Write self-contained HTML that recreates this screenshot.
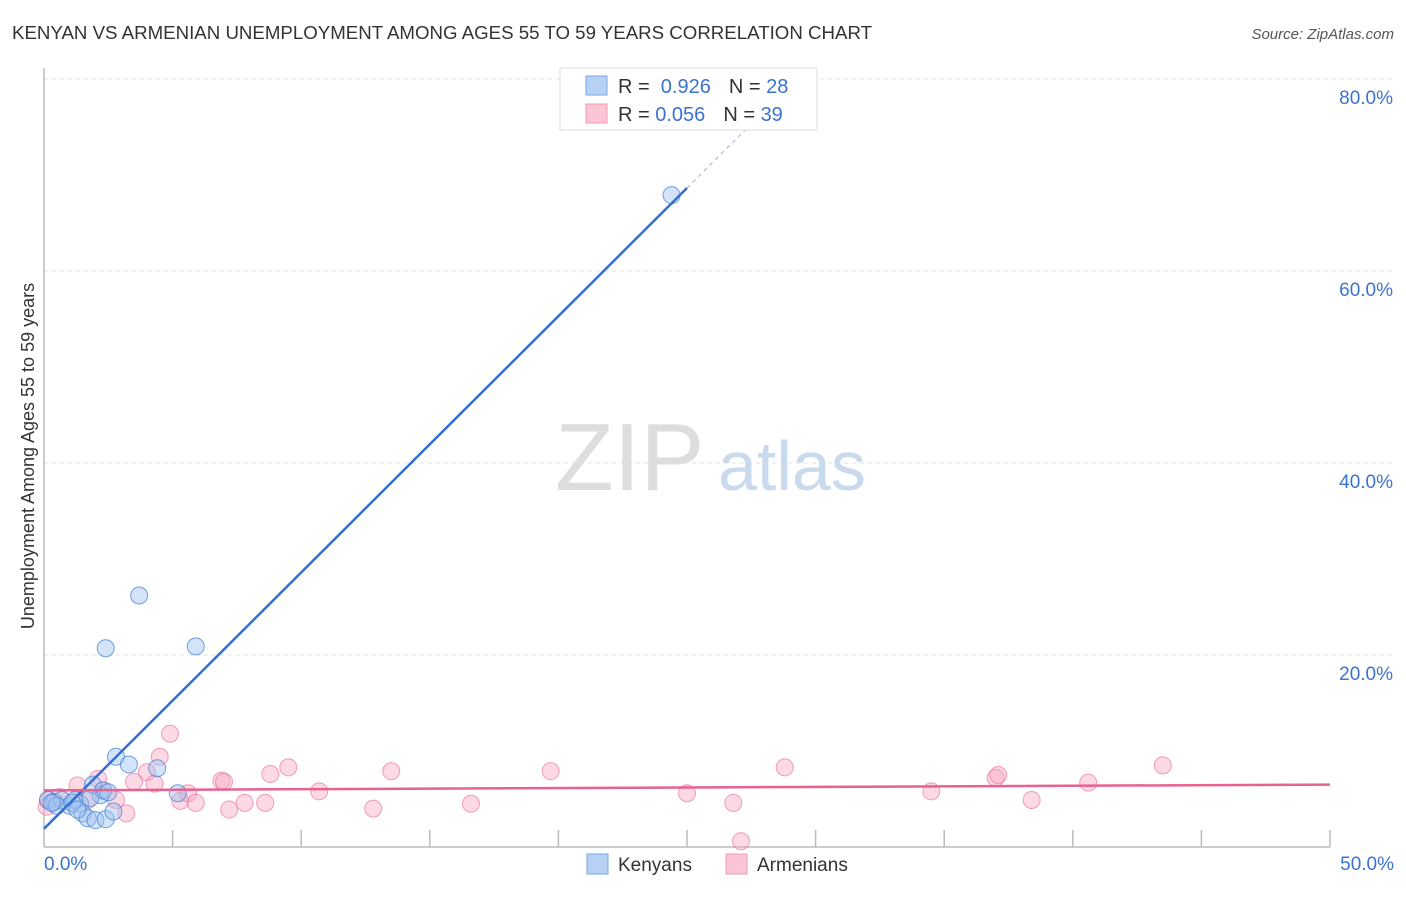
<!DOCTYPE html>
<html><head><meta charset="utf-8"><style>
body{margin:0;background:#fff;font-family:"Liberation Sans",sans-serif;}
svg text{font-family:"Liberation Sans",sans-serif;}
</style></head><body>
<svg width="1406" height="892">
<text x="12" y="39" font-size="18" fill="#333" textLength="860" lengthAdjust="spacingAndGlyphs">KENYAN VS ARMENIAN UNEMPLOYMENT AMONG AGES 55 TO 59 YEARS CORRELATION CHART</text>
<text x="1394" y="39" font-size="15" fill="#555" font-style="italic" text-anchor="end">Source: ZipAtlas.com</text>
<g id="grid"></g>
<g id="axes"></g>
<text x="555" y="490" font-size="96" fill="#ddd" font-family="Liberation Serif">ZIP</text>
<text x="718" y="490" font-size="70" fill="#c9d9ee">atlas</text>
<g id="pts"></g>
<g id="lines"></g>
<text transform="translate(34,456) rotate(-90)" font-size="18" fill="#333" text-anchor="middle">Unemployment Among Ages 55 to 59 years</text>
<g>
<rect x="560" y="68" width="257" height="62" fill="#fff" stroke="#ddd"/>
<rect x="586" y="76" width="21" height="19" fill="#b7d1f5" stroke="#7aa6e6"/>
<rect x="586" y="104" width="21" height="19" fill="#fac5d5" stroke="#f09ab4"/>
<text x="618" y="93" font-size="20" fill="#333">R = <tspan fill="#3a73d0">&#160;0.926</tspan><tspan dx="18">N = </tspan><tspan fill="#3a73d0">28</tspan></text>
<text x="618" y="121" font-size="20" fill="#333">R = <tspan fill="#3a73d0">0.056</tspan><tspan dx="18">N = </tspan><tspan fill="#3a73d0">39</tspan></text>
</g>
<g>
<rect x="587" y="854" width="21" height="20" fill="#b7d1f5" stroke="#7aa6e6"/>
<text x="618" y="871" font-size="19" fill="#333">Kenyans</text>
<rect x="726" y="854" width="21" height="20" fill="#fac5d5" stroke="#f09ab4"/>
<text x="757" y="871" font-size="19" fill="#333">Armenians</text>
</g>
</svg>
<script>
const kenX=[24.4,3.7,2.4,5.9,2.8,3.3,4.4,5.2,0.16,0.4,0.7,1.0,1.2,1.4,1.5,1.7,2.0,2.4,2.7,2.2,1.9,2.3,1.8,0.5,0.3,1.1,1.3,2.5];
const kenY=[67.9,26.2,20.7,20.9,9.4,8.6,8.2,5.6,4.9,4.7,4.9,4.3,4.9,4.5,3.5,3.0,2.8,2.9,3.7,5.4,6.5,5.9,5.1,4.3,4.6,4.6,3.9,5.7];
const armX=[0.15,4.9,4.5,4.0,3.5,4.3,5.3,5.6,5.9,6.9,7.2,7.8,8.6,8.8,9.5,10.7,12.8,13.5,16.6,19.7,25.0,26.8,27.1,28.8,34.5,37.0,37.1,38.4,40.6,43.5,1.3,2.1,2.8,3.2,2.3,0.6,1.7,7.0,0.1];
const armY=[4.9,11.8,9.4,7.8,6.8,6.6,4.8,5.6,4.6,6.9,3.9,4.6,4.6,7.6,8.3,5.8,4.0,7.9,4.5,7.9,5.6,4.6,0.6,8.3,5.8,7.2,7.5,4.9,6.7,8.5,6.4,7.1,4.9,3.5,5.9,5.2,4.9,6.8,4.2];
const yTicks=[20,40,60,80];
const xTickLabels=["0.0%","50.0%"];
const kenFit=[1.9,2.67]; const armFit=[5.9,0.012];
const NS="http://www.w3.org/2000/svg";
const X=v=>44+v*25.72, Y=v=>847-v*9.6;
function mk(t,a,p){const e=document.createElementNS(NS,t);for(const k in a)e.setAttribute(k,a[k]);p.appendChild(e);return e;}
const grid=document.getElementById('grid'),axes=document.getElementById('axes'),pts=document.getElementById('pts'),lines=document.getElementById('lines');
yTicks.forEach(t=>{
 const l=mk('line',{x1:44,x2:1394,y1:Y(t),y2:Y(t),stroke:'#e2e2e2','stroke-dasharray':'4,4'},grid);
 
 
 const tx=mk('text',{x:1393,y:Y(t)+25,'font-size':19,fill:'#3a73d0','text-anchor':'end'},axes);tx.textContent=t.toFixed(1)+'%';
 
 
});
mk('line',{x1:44,x2:44,y1:68,y2:847,stroke:'#bbb','stroke-width':1.5},axes);
mk('line',{x1:44,x2:1330,y1:847,y2:847,stroke:'#bbb','stroke-width':1.5},axes);
for(let i=1;i<=10;i++){mk('line',{x1:X(i*5),x2:X(i*5),y1:830,y2:847,stroke:'#bbb','stroke-width':1.5},axes);}
const xl=mk('text',{x:44,y:870,'font-size':19,fill:'#3a73d0'},axes);xl.textContent=xTickLabels[0];


const xr=mk('text',{x:1394,y:870,'font-size':19,fill:'#3a73d0','text-anchor':'end'},axes);xr.textContent=xTickLabels[1];


armX.forEach((x,i)=>{const c=mk('circle',{cx:X(x),cy:Y(armY[i]),r:8.5,fill:'rgba(248,170,195,0.45)',stroke:'rgba(235,120,155,0.7)','stroke-width':1},pts);
 
 });
kenX.forEach((x,i)=>{const c=mk('circle',{cx:X(x),cy:Y(kenY[i]),r:8.5,fill:'rgba(160,195,240,0.45)',stroke:'rgba(70,130,215,0.75)','stroke-width':1},pts);
 
 });
const k1=mk('line',{x1:X(0),y1:Y(kenFit[0]),x2:X(25),y2:Y(kenFit[0]+25*kenFit[1]),stroke:'#2f6fd6','stroke-width':2.5},lines);


mk('line',{x1:X(25),y1:Y(kenFit[0]+25*kenFit[1]),x2:X(27.6),y2:Y(kenFit[0]+27.6*kenFit[1]),stroke:'#aac','stroke-width':1,'stroke-dasharray':'4,4'},lines);
const a1=mk('line',{x1:X(0),y1:Y(armFit[0]),x2:X(50),y2:Y(armFit[0]+50*armFit[1]),stroke:'#e8628f','stroke-width':2.5},lines);


</script>
</body></html>
